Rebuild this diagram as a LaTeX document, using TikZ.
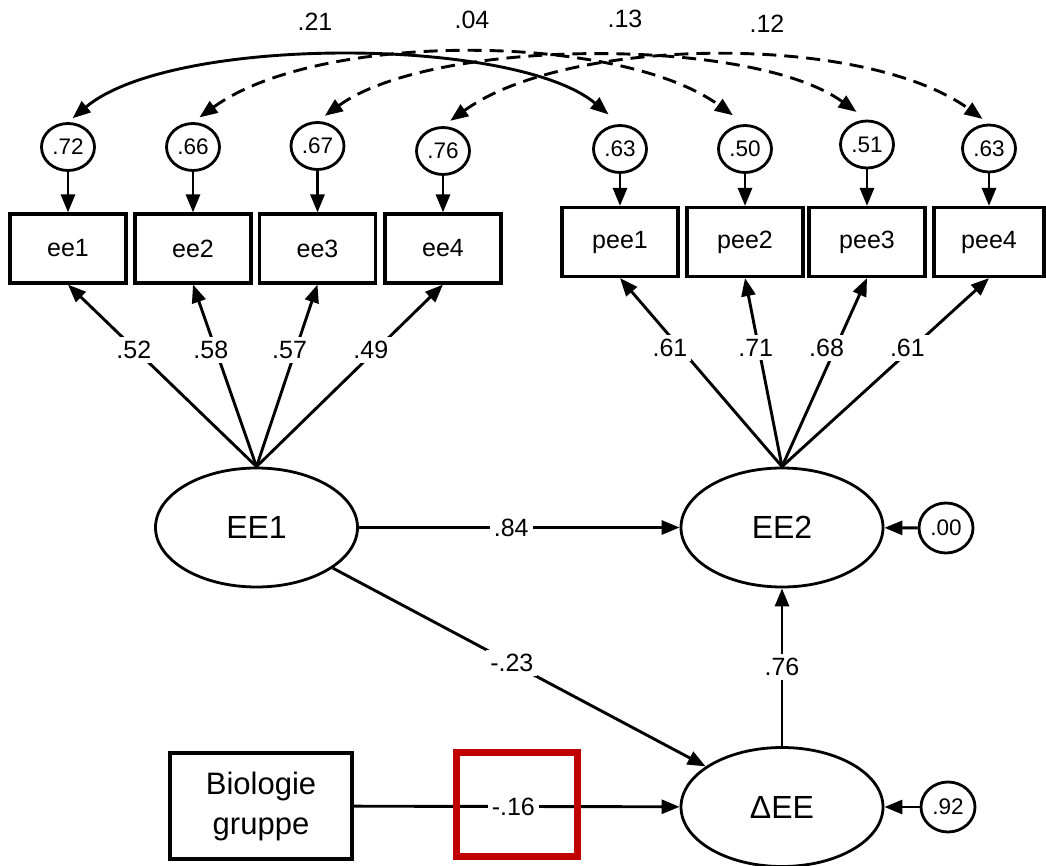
\documentclass[tikz,border=0pt]{standalone}
\usepackage{fontspec}
\setmainfont{Liberation Sans}
\usetikzlibrary{arrows.meta,shapes.geometric}
\definecolor{hlred}{RGB}{192,0,0}

\begin{document}
\begin{tikzpicture}[x=1pt,y=1pt,
  every node/.style={font=\fontsize{25}{30}\selectfont},
  obs/.style={draw, line width=3.2pt, minimum width=116, minimum height=69, inner sep=0},
  lat/.style={ellipse, draw, line width=2.8pt, minimum width=202, minimum height=119,
              inner sep=0, font=\fontsize{32}{36}\selectfont},
  err/.style={ellipse, draw, line width=2.8pt, minimum width=53, minimum height=47,
              inner sep=0, font=\fontsize{22.5}{26}\selectfont},
  conn/.style={line width=2.9pt, -{Triangle[length=18pt,width=14pt]}},
  cov/.style={line width=2.9pt,
              {Triangle[length=18pt,width=14pt]}-{Triangle[length=18pt,width=14pt]}},
  dsh/.style={dash pattern=on 14pt off 8pt},
  lbl/.style={fill=white, inner sep=4pt, font=\fontsize{25}{30}\selectfont},
  toplbl/.style={font=\fontsize{25}{30}\selectfont},
]
\useasboundingbox (0,0) rectangle (1046,-866);

% indicator boxes
\node[obs] (ee1) at (68,-248.5) {ee1};
\node[obs] (ee2) at (193,-248.5) {ee2};
\node[obs] (ee3) at (317.5,-248.5) {ee3};
\node[obs] (ee4) at (443,-248.5) {ee4};
\node[obs] (pee1) at (620,-242) {pee1};
\node[obs] (pee2) at (745,-242) {pee2};
\node[obs] (pee3) at (867,-242) {pee3};
\node[obs, minimum width=110] (pee4) at (989,-242) {pee4};

% residuals of the indicators
\node[err] (c1) at (68,-147) {.72};
\node[err] (c2) at (193,-147) {.66};
\node[err] (c3) at (317.5,-146) {.67};
\node[err] (c4) at (443,-151) {.76};
\node[err] (d1) at (620,-149) {.63};
\node[err] (d2) at (745,-149) {.50};
\node[err] (d3) at (867,-144.5) {.51};
\node[err] (d4) at (989,-148.5) {.63};

\foreach \a/\b in {c1/ee1,c2/ee2,c3/ee3,c4/ee4,d1/pee1,d2/pee2,d3/pee3,d4/pee4}
  \draw[conn] (\a) -- (\b);

% residual covariances
\draw[cov, shorten <=6pt, shorten >=15pt] (c1.north) to[out=40,in=140,looseness=0.63] (d1.north);
\draw[cov, dsh, shorten <=8pt, shorten >=15pt] (c2.north) to[out=36,in=144,looseness=0.72] (d2.north);
\draw[cov, dsh, shorten <=9pt, shorten >=13pt] (c3.north) to[out=36,in=144,looseness=0.66] (d3.north);
\draw[cov, dsh, shorten <=9pt, shorten >=8pt] (c4.north) to[out=36,in=144,looseness=0.72] (d4.north);

\node[toplbl] (k1) at (315,-22) {.21};
\node[toplbl] (k2) at (472,-20) {.04};
\node[toplbl] (k3) at (625,-19) {.13};
\node[toplbl] (k4) at (767,-24) {.12};

% latent variables
\node[lat] (EE1) at (256.5,-527.5) {EE1};
\node[lat] (EE2) at (782,-527.5) {EE2};
\node[lat] (dEE) at (782,-807) {ΔEE};

% loadings
\draw[conn] (EE1.north) -- node[lbl,pos=0.64,xshift=-2pt]{.52} (ee1.south);
\draw[conn] (EE1.north) -- node[lbl,pos=0.64,xshift=-5pt]{.58} (ee2.south);
\draw[conn] (EE1.north) -- node[lbl,pos=0.64,xshift=-6pt]{.57} (ee3.south);
\draw[conn] (EE1.north) -- node[lbl,pos=0.64,xshift=-5pt]{.49} (ee4.south);
\draw[conn] (EE2.north) -- node[lbl,pos=0.63,xshift=-10pt]{.61} (pee1.south);
\draw[conn] (EE2.north) -- node[lbl,pos=0.63,xshift=-3pt]{.71} (pee2.south);
\draw[conn] (EE2.north) -- node[lbl,pos=0.63,xshift=-9pt]{.68} (pee3.south);
\draw[conn] (EE2.north) -- node[lbl,pos=0.63,xshift=-5pt]{.61} (pee4.south);

% structural residuals
\node[err, minimum width=54, minimum height=50] (z1) at (946,-528) {.00};
\node[err, minimum width=54, minimum height=50] (z2) at (948,-807) {.92};
\draw[conn] (z1) -- (EE2);
\draw[conn] (z2) -- (dEE);

% covariate
\node[obs, minimum width=182, minimum height=106, align=center,
      font=\fontsize{31}{40}\selectfont] (bio) at (261,-806) {Biologie\\gruppe};

% structural paths
\draw[conn] (EE1) -- node[lbl,pos=0.475]{.84} (EE2);
\draw[conn] (EE1) -- node[lbl,pos=0.48]{-.23} (dEE);
\draw[conn] (dEE) -- node[lbl,pos=0.5]{.76} (EE2);
\draw[conn] (bio) -- node[lbl,pos=0.49]{-.16} (dEE);

% highlight frame
\node[draw=hlred, line width=7pt, minimum width=121, minimum height=104, inner sep=0]
  (hl) at (517,-804.5) {};
\end{tikzpicture}
\end{document}
